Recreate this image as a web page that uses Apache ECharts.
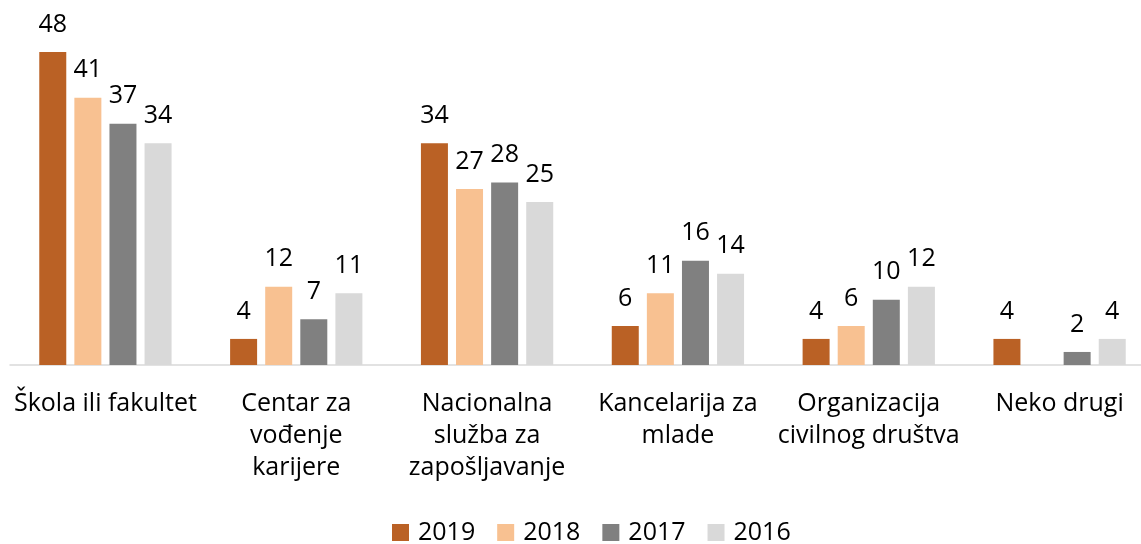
<!DOCTYPE html>
<html>
<head>
<meta charset="utf-8">
<script src="https://cdn.jsdelivr.net/npm/echarts@6/dist/echarts.min.js"></script>
<style>
  html, body { margin: 0; padding: 0; background: #fff; }
  #chart { width: 1141px; height: 544px; }
</style>
</head>
<body>
<div id="chart"></div>
<script>
// categories (line breaks as in the original wrapping)
const categories = [
  'Škola ili fakultet',
  'Centar za\nvođenje\nkarijere',
  'Nacionalna\nslužba za\nzapošljavanje',
  'Kancelarija za\nmlade',
  'Organizacija\ncivilnog društva',
  'Neko drugi'
]
const years = ['2019', '2018', '2017', '2016']
const data2019 = [48, 4, 34, 6, 4, 4]
const data2018 = [41, 12, 27, 11, 6, null]
const data2017 = [37, 7, 28, 16, 10, 2]
const data2016 = [34, 11, 25, 14, 12, 4]

const colors = ['#BA6125', '#F8C191', '#808080', '#D9D9D9']
const font = '"Open Sans", sans-serif'

const chart = echarts.init(document.getElementById('chart'))

const makeSeries = (name, data, i) => ({
  name: name,
  type: 'bar',
  data: data,
  barWidth: 27,
  barGap: '30%',
  itemStyle: { color: colors[i] },
  label: {
    show: true,
    position: 'top',
    distance: 15,
    color: '#000',
    fontFamily: font,
    fontSize: 25
  }
})

const option = {
  animation: false,
  textStyle: { fontFamily: font },
  legend: {
    data: years,
    left: 387,
    top: 515,
    itemWidth: 17,
    itemHeight: 17,
    itemGap: 22,
    icon: 'rect',
    textStyle: { fontFamily: font, fontSize: 25, color: '#000', padding: [0, 0, 0, 4] }
  },
  grid: {
    left: 10,
    right: -14,
    top: 52,
    bottom: 179,
    containLabel: false,
    outerBoundsMode: 'none'
  },
  xAxis: {
    type: 'category',
    data: categories,
    axisTick: { show: false },
    axisLine: { lineStyle: { color: '#D9D9D9', width: 1.5 } },
    axisLabel: {
      interval: 0,
      margin: 23,
      color: '#000',
      fontFamily: font,
      fontSize: 25,
      lineHeight: 32
    }
  },
  yAxis: {
    type: 'value',
    min: 0,
    max: 48,
    show: false,
    splitLine: { show: false }
  },
  series: [
    makeSeries(years[0], data2019, 0),
    makeSeries(years[1], data2018, 1),
    makeSeries(years[2], data2017, 2),
    makeSeries(years[3], data2016, 3)
  ]
}

chart.setOption(option)
</script>
</body>
</html>
